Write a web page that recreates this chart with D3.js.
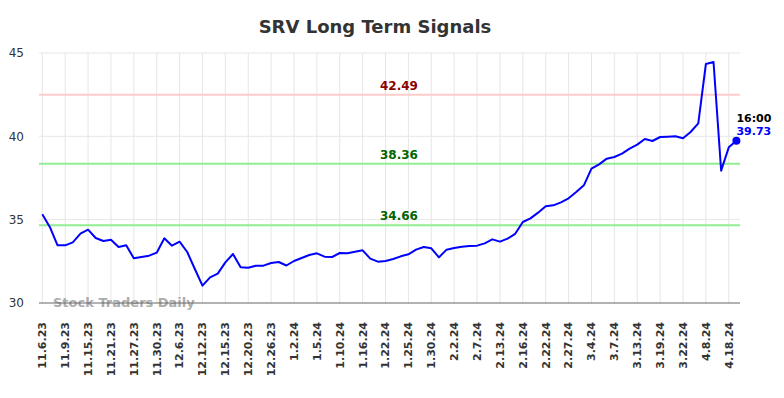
<!DOCTYPE html>
<html>
<head>
<meta charset="utf-8">
<script src="https://cdn.jsdelivr.net/npm/d3@7"></script>
<style>
  body { margin: 0; background: #fff; }
  text { font-family: "DejaVu Sans", sans-serif; }
</style>
</head>
<body>
<div id="chart"></div>
<script>
// closing prices, one per session (oldest first)
const prices = [
  35.32, 34.55, 33.46, 33.46, 33.64, 34.16, 34.40, 33.90, 33.72, 33.80,
  33.36, 33.46, 32.68, 32.76, 32.84, 33.02, 33.88, 33.44, 33.68, 33.06,
  32.04, 31.04, 31.54, 31.76, 32.44, 32.94, 32.14, 32.12, 32.24, 32.24,
  32.40, 32.46, 32.25, 32.52, 32.70, 32.88, 32.98, 32.78, 32.76, 33.00,
  32.98, 33.08, 33.16, 32.66, 32.48, 32.52, 32.64, 32.80, 32.92, 33.20,
  33.36, 33.28, 32.74, 33.20, 33.30, 33.38, 33.42, 33.44, 33.58, 33.82,
  33.68, 33.86, 34.15, 34.86, 35.08, 35.42, 35.80, 35.86, 36.04, 36.28,
  36.66, 37.06, 38.06, 38.32, 38.66, 38.76, 38.96, 39.26, 39.50, 39.84,
  39.72, 39.96, 39.98, 40.00, 39.88, 40.26, 40.78, 44.34, 44.46, 37.94,
  39.34, 39.73
];

// a date label on every third session
const dateLabels = [
  "11.6.23", "11.9.23", "11.15.23", "11.21.23", "11.27.23", "11.30.23",
  "12.6.23", "12.12.23", "12.15.23", "12.20.23", "12.26.23", "1.2.24",
  "1.5.24", "1.10.24", "1.16.24", "1.22.24", "1.25.24", "1.30.24",
  "2.2.24", "2.7.24", "2.13.24", "2.16.24", "2.22.24", "2.27.24",
  "3.4.24", "3.7.24", "3.13.24", "3.19.24", "3.22.24", "4.8.24", "4.18.24"
];
const labelStep = 3;

const yTicks = [30, 35, 40, 45];

const signalValues = [42.49, 38.36, 34.66];
const signalColors = ["#ffcccc", "#90ee90", "#90ee90"];
const signalTextColors = ["#8b0000", "#006400", "#006400"];

const lastTime = "16:00";

const W = 784, H = 398;
const plot = { left: 39, right: 740, top: 53, bottom: 303 };

const svg = d3.select("#chart").append("svg")
  .attr("width", W)
  .attr("height", H);

const x = d3.scaleLinear()
  .domain([0, prices.length - 1])
  .range([42.3, 736.4]);

const y = d3.scaleLinear()
  .domain([30, 45])
  .range([plot.bottom, plot.top]);

// title
svg.append("text")
  .attr("x", 375)
  .attr("y", 33)
  .attr("text-anchor", "middle")
  .attr("font-size", "18px")
  .attr("font-weight", "bold")
  .attr("fill", "#333")
  .text("SRV Long Term Signals");

// horizontal grid
svg.append("g")
  .selectAll("line")
  .data(yTicks.filter(d => d !== 30))
  .join("line")
    .attr("x1", plot.left).attr("x2", plot.right)
    .attr("y1", d => y(d)).attr("y2", d => y(d))
    .attr("stroke", "#e6e6e6");

// vertical grid, one per date label
const tickIdx = dateLabels.map((_, i) => i * labelStep);
svg.append("g")
  .selectAll("line")
  .data(tickIdx)
  .join("line")
    .attr("x1", d => x(d)).attr("x2", d => x(d))
    .attr("y1", plot.top).attr("y2", plot.bottom)
    .attr("stroke", "#e6e6e6");

// y labels
svg.append("g")
  .selectAll("text")
  .data(yTicks)
  .join("text")
    .attr("x", 24)
    .attr("y", d => y(d))
    .attr("dy", "0.35em")
    .attr("text-anchor", "end")
    .attr("font-size", "12px")
    .attr("fill", "#333")
    .text(d => d);

// x labels, rotated
svg.append("g")
  .selectAll("text")
  .data(dateLabels)
  .join("text")
    .attr("transform", (d, i) => `translate(${x(i * labelStep)},322) rotate(-90)`)
    .attr("dy", "0.35em")
    .attr("text-anchor", "end")
    .attr("font-size", "11px")
    .attr("font-weight", "bold")
    .attr("fill", "#333")
    .text(d => d);

// signal lines
signalValues.forEach((v, i) => {
  svg.append("line")
    .attr("x1", plot.left).attr("x2", plot.right)
    .attr("y1", y(v)).attr("y2", y(v))
    .attr("stroke", signalColors[i])
    .attr("stroke-width", 2);
  svg.append("text")
    .attr("x", 399)
    .attr("y", y(v) - 5)
    .attr("text-anchor", "middle")
    .attr("font-size", "12px")
    .attr("font-weight", "bold")
    .attr("fill", signalTextColors[i])
    .text(v.toFixed(2));
});

// watermark
svg.append("text")
  .attr("x", 53)
  .attr("y", 307)
  .attr("font-size", "13px")
  .attr("font-weight", "bold")
  .attr("fill", "#999")
  .attr("opacity", 0.8)
  .text("Stock Traders Daily");

// bottom axis line
svg.append("line")
  .attr("x1", plot.left).attr("x2", plot.right)
  .attr("y1", plot.bottom).attr("y2", plot.bottom)
  .attr("stroke", "#666");

// price line
const line = d3.line()
  .x((d, i) => x(i))
  .y(d => y(d));

svg.append("path")
  .datum(prices)
  .attr("d", line)
  .attr("fill", "none")
  .attr("stroke", "#0000ff")
  .attr("stroke-width", 2)
  .attr("stroke-linejoin", "round");

// last point marker and labels
const lastI = prices.length - 1;
const lastV = prices[lastI];
svg.append("circle")
  .attr("cx", x(lastI))
  .attr("cy", y(lastV))
  .attr("r", 4)
  .attr("fill", "#0000ff");

svg.append("text")
  .attr("x", x(lastI))
  .attr("y", y(lastV) - 19)
  .attr("font-size", "11px")
  .attr("font-weight", "bold")
  .attr("fill", "#000")
  .text(lastTime);

svg.append("text")
  .attr("x", x(lastI))
  .attr("y", y(lastV) - 6)
  .attr("font-size", "11px")
  .attr("font-weight", "bold")
  .attr("fill", "#0000ff")
  .text(lastV.toFixed(2));
</script>
</body>
</html>
